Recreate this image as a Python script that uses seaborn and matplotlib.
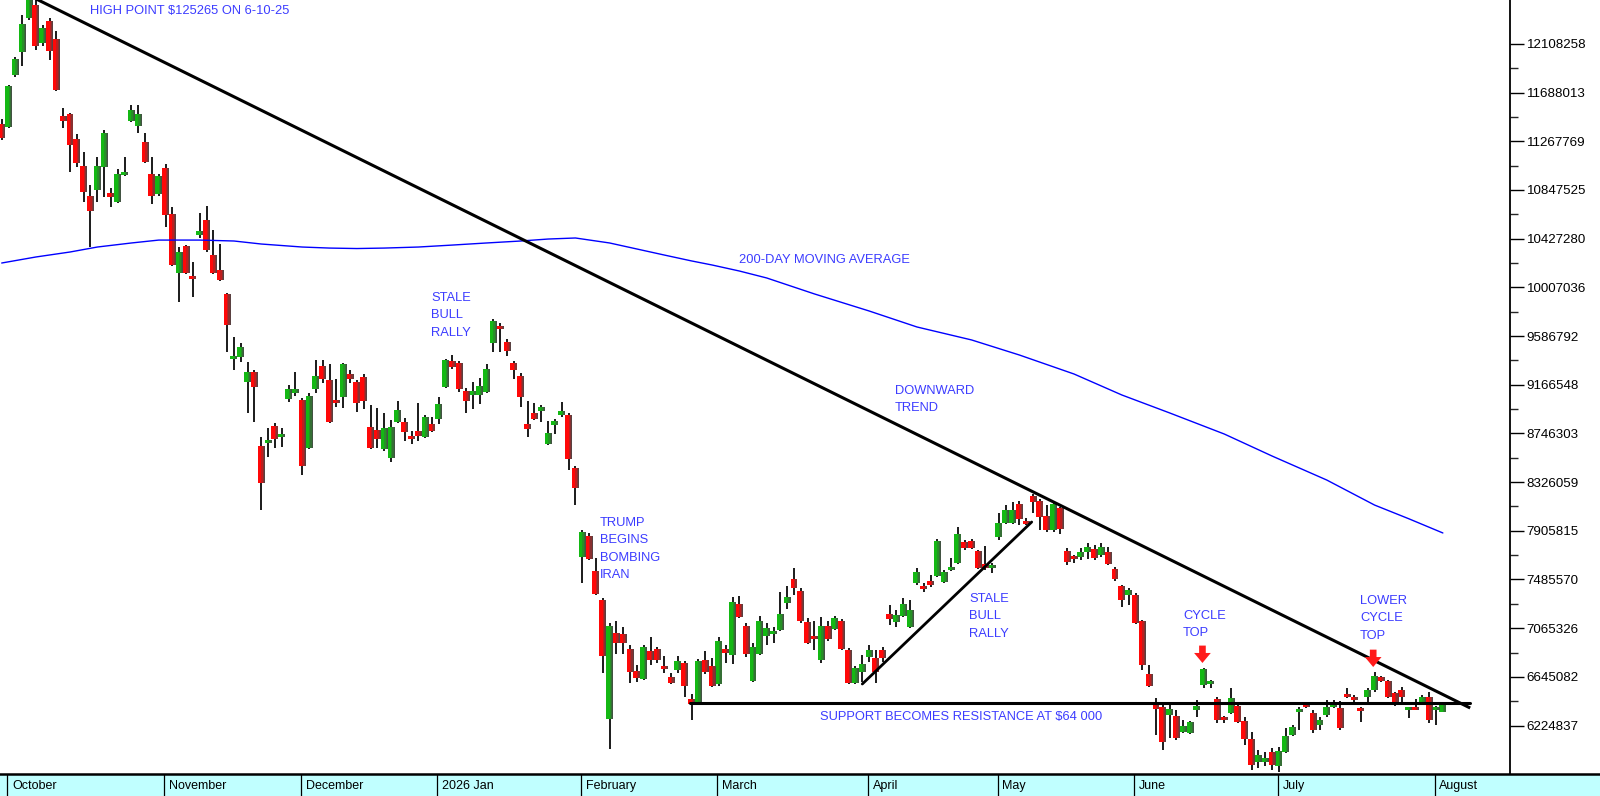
import matplotlib
matplotlib.use("Agg")
import matplotlib.pyplot as plt
import matplotlib.colors as mcolors
import numpy as np
import pandas as pd
import seaborn as sns

# JSE trading days, 30 Sep 2025 -> 4 Aug 2026
holidays = ["2025-12-16", "2025-12-25", "2025-12-26", "2026-01-01", "2026-04-03",
            "2026-04-06", "2026-04-27", "2026-05-01", "2026-06-16"]
days = pd.bdate_range("2025-09-30", "2026-08-04")
days = days[~days.isin(pd.to_datetime(holidays))]

# daily prices in dollars
opens = [114170, 113910, 118400, 120380, 123320, 124440, 121160, 123060, 121510, 114860,
         115030, 112870, 110540, 107950, 108470, 110460, 108210, 107440, 109770, 114430,
         114000, 112620, 109850, 108110, 110370, 106400, 101310, 103640, 101050, 104590,
         105880, 102860, 101570, 99500, 93890, 94060, 91900, 92760, 86380, 86640,
         88100, 87150, 90430, 90950, 90350, 86200, 91300, 93280, 92070, 90260,
         90610, 92590, 91900, 92330, 88020, 87760, 86120, 85340, 88450, 88450,
         87240, 87670, 87150, 88280, 88710, 91470, 93710, 93540, 91120, 90780,
         90780, 91040, 95270, 96730, 95350, 93540, 92420, 88280, 89230, 89400,
         86550, 88190, 89050, 89050, 84480, 76800, 78610, 75590, 73090, 62810,
         70240, 70150, 68860, 66960, 66270, 68680, 68860, 67390, 66440, 67040,
         67650, 64540, 64280, 67910, 67390, 65840, 68860, 68340, 72740, 70840,
         66090, 68420, 69980, 70150, 70500, 72830, 74900, 73860, 71190, 69890,
         67910, 70840, 70580, 71270, 68770, 65920, 66870, 68170, 68080, 68770,
         71880, 71190, 71700, 70760, 74550, 74210, 74730, 75160, 74640, 75670,
         76280, 78090, 78180, 77310, 76190, 75850, 78520, 79730, 79730, 81370,
         79900, 82060, 81630, 80330, 79130, 81030, 77310, 76880, 76800, 77230,
         77490, 76970, 77230, 75760, 74290, 73520, 73520, 71270, 66700, 64110,
         63850, 63160, 63070, 61690, 61610, 63590, 65750, 65840, 64540, 62900,
         63330, 63940, 62640, 61090, 59100, 59100, 59970, 58760, 59970, 61430,
         63420, 63940, 63330, 62300, 63160, 63850, 63760, 64890, 64710, 63760,
         64710, 65320, 66440, 66090, 65060, 65320, 63590, 63850, 64280, 64710,
         63590, 63420]
highs = [114600, 117540, 119950, 123580, 125265, 125130, 122710, 123320, 122200, 115550,
         115120, 113310, 111750, 108900, 111320, 113650, 108650, 110290, 111320, 115810,
         115810, 113390, 111320, 109850, 110720, 107000, 103550, 103730, 102260, 106490,
         107090, 105020, 103810, 99580, 95790, 95270, 93630, 92940, 87150, 87930,
         88360, 87930, 91640, 92760, 90520, 90950, 93800, 93800, 93450, 92160,
         93540, 92940, 92070, 92590, 89920, 89660, 89230, 88620, 90260, 88790,
         87670, 90090, 89050, 88880, 90610, 93890, 94230, 93710, 91380, 91900,
         92250, 93450, 97340, 96990, 95610, 93710, 92680, 90260, 90090, 89920,
         88530, 88710, 90170, 89230, 84650, 79130, 78870, 76710, 73260, 71100,
         71270, 70760, 69200, 67470, 69200, 69890, 69030, 68250, 66780, 68250,
         67820, 64970, 67990, 68680, 68080, 69890, 69200, 73340, 73430, 71100,
         69370, 71700, 71100, 70760, 73780, 74290, 75850, 74120, 71530, 71270,
         71620, 71270, 71700, 71440, 68940, 67390, 68340, 69200, 68770, 69030,
         72650, 72220, 73260, 73090, 75850, 74550, 75240, 78350, 75670, 76710,
         79390, 78260, 78350, 77400, 77750, 76280, 80590, 81280, 81540, 81630,
         80160, 82230, 81800, 81280, 81540, 81110, 77570, 76970, 77570, 78010,
         77830, 78010, 77660, 75930, 74380, 74120, 73690, 71360, 67470, 64630,
         64200, 64020, 63590, 62730, 62640, 64450, 67220, 66180, 64710, 63070,
         65490, 64110, 62990, 61690, 60140, 59970, 60310, 60400, 62040, 62300,
         63850, 64020, 63590, 62990, 64450, 64450, 64370, 65490, 64890, 63850,
         65490, 66870, 66530, 66180, 65140, 65580, 63850, 64540, 64890, 65140,
         63940, 64200]
lows = [112790, 113820, 118230, 119180, 123150, 120560, 120900, 119690, 117050, 113820,
        110030, 110460, 107440, 103550, 107440, 107870, 107000, 107350, 109700, 114340,
        113390, 110800, 107260, 107950, 105280, 101950, 98810, 101220, 99240, 104330,
        103120, 101220, 100620, 94490, 92940, 93630, 89230, 88450, 80850, 85430,
        86200, 86290, 90170, 90690, 83870, 86120, 90950, 91810, 88360, 89740,
        89660, 91810, 89310, 89570, 86120, 86200, 85950, 85000, 88360, 86810,
        86550, 86810, 87070, 87590, 88280, 91380, 93020, 91040, 89230, 89570,
        90000, 90950, 94490, 94490, 94140, 92160, 89740, 87150, 88620, 88450,
        86460, 87410, 88880, 84310, 81280, 74550, 76540, 73520, 66780, 60230,
        68420, 68420, 65920, 66010, 66180, 67470, 67650, 66780, 65840, 66780,
        64710, 62730, 64200, 66700, 65580, 65660, 67650, 67560, 71530, 68170,
        66010, 68340, 69200, 69370, 70410, 72310, 73520, 71100, 69290, 68770,
        67650, 69550, 70500, 68770, 65840, 65840, 66010, 67730, 65920, 67730,
        70930, 70760, 71620, 70670, 74380, 73780, 74210, 75070, 74550, 75590,
        76200, 77400, 77490, 75760, 75670, 75420, 78260, 79640, 79640, 79560,
        79560, 80590, 79130, 78950, 78950, 78780, 76110, 76280, 76540, 76620,
        76540, 76800, 76110, 74730, 72480, 72650, 71010, 67040, 65580, 61430,
        60140, 61170, 61000, 61610, 61520, 62990, 65490, 65490, 62470, 62470,
        63250, 62470, 60570, 58410, 58590, 58760, 58410, 58240, 59880, 61350,
        61870, 63760, 61610, 61870, 62990, 63760, 61870, 64630, 64200, 62560,
        64200, 65140, 66010, 64630, 63940, 64280, 62900, 63590, 64280, 62470,
        62300, 63420]
closes = [112960, 117450, 119780, 122800, 124960, 120900, 122450, 120470, 117100, 114430,
          112360, 110800, 108300, 106660, 110540, 113390, 107870, 109850, 110030, 115380,
          115030, 110890, 107950, 109680, 106310, 102000, 103120, 101310, 100790, 104930,
          103290, 101310, 100700, 96820, 94060, 94920, 92760, 91470, 83180, 86900,
          86980, 87410, 91300, 91300, 84650, 90690, 92420, 92160, 88450, 90090,
          93450, 92160, 90090, 90260, 86200, 86980, 87930, 88020, 89480, 87590,
          86980, 87240, 88880, 87670, 90000, 93800, 93190, 91300, 90260, 91120,
          91560, 93020, 97170, 96480, 94580, 92940, 90610, 87840, 88710, 89740,
          87500, 88530, 89400, 85260, 82750, 78950, 76620, 73600, 68250, 70840,
          69370, 69370, 66870, 66350, 69030, 67910, 67910, 67130, 65920, 67820,
          65660, 64110, 67820, 66870, 65660, 69550, 68510, 72910, 71620, 68420,
          69030, 71270, 70670, 70320, 71880, 73340, 74120, 71270, 69370, 69720,
          70840, 69720, 71530, 68860, 65920, 67220, 67560, 68770, 66870, 68080,
          71440, 71790, 72740, 72220, 75500, 74030, 74380, 78180, 75500, 75850,
          78780, 77570, 77570, 75850, 75850, 76110, 79730, 80850, 80850, 80080,
          79640, 81540, 80250, 79130, 81370, 79210, 76370, 76620, 77230, 77660,
          76710, 77660, 76190, 74900, 73090, 73950, 71100, 67470, 65660, 63680,
          60830, 63680, 61170, 62210, 62560, 63940, 67130, 66010, 62730, 62730,
          64630, 62560, 61090, 58840, 59710, 59450, 58840, 60050, 61350, 62120,
          63680, 63850, 61870, 62730, 63850, 64020, 62040, 64710, 64450, 63500,
          65320, 66530, 66090, 64710, 64020, 64710, 63850, 63590, 64710, 62730,
          63850, 64020]

# 200-day moving average, read at a set of trading-day positions
ma_pos = [0, 5, 10, 14, 19, 23, 29, 34, 38, 44, 48, 52, 56, 61, 66, 71, 76, 80, 84, 89,
          93, 97, 101, 104, 108, 112, 119, 127, 134, 142, 149, 157, 164, 171, 179, 186,
          194, 201, 206, 211]
ma_val = [102170, 102690, 103120, 103550, 103900, 104150, 104150, 104070, 103810, 103550,
          103460, 103420, 103460, 103550, 103720, 103900, 104070, 104240, 104330, 103900,
          103380, 102860, 102350, 102000, 101480, 100880, 99500, 98030, 96650, 95530,
          94230, 92590, 90780, 89230, 87410, 85510, 83440, 81280, 80100, 78870]

# hand-drawn lines (trading-day position, price)
trend_pos, trend_val = [4, 215], [125265, 63764]
rally_pos, rally_val = [126.0, 150.8], [65835, 79817]
support_pos, support_val = [100.8, 215], 64220
arrow_pos = [175.8, 200.8]
arrow_tip = [67650, 67300]

# right axis labels (chart units = cents)
tick_labels = [6224837, 6645082, 7065326, 7485570, 7905815, 8326059, 8746303, 9166548,
               9586792, 10007036, 10427280, 10847525, 11267769, 11688013, 12108258]
month_names = ["October", "November", "December", "2026 Jan", "February", "March",
               "April", "May", "June", "July", "August"]

sns.set_style("white")
plt.rcParams["font.family"] = ["Liberation Sans", "DejaVu Sans"]

W, H = 1600, 796
plot_w, plot_h, bar_h = 1510, 774, 22
fig = plt.figure(figsize=(W / 100, H / 100), dpi=100, facecolor="white")
ax = fig.add_axes([0, 1 - plot_h / H, plot_w / W, plot_h / H])

o, hi, lo, c = (np.array(v, dtype=float) for v in (opens, highs, lows, closes))
pos = np.arange(len(o))
up = c >= o
bottom = np.minimum(o, c)
height = np.maximum(np.abs(c - o), 280)

# wicks
ax.vlines(pos, lo, hi, color="#1a1a1a", lw=1.4, zorder=2)

# bodies: bright fill, darker right-hand shading laid over it
w = 1.02
def shade(base, t):
    b = np.array(mcolors.to_rgb(base))
    return tuple(b * (1 - t) + np.array([0.28, 0.28, 0.28]) * t)
layers = [(1.0, 0.0), (0.5, 0.35), (0.3, 0.65), (0.12, 0.9)]
for mask, base in ((up, "#14b814"), (~up, "#ff0808")):
    for frac, t in layers:
        bw = w * frac
        ax.bar(pos[mask] + w / 2 - bw / 2, height[mask], width=bw, bottom=bottom[mask],
               color=shade(base, t), lw=0, zorder=3)

# moving average
sns.lineplot(x=ma_pos, y=ma_val, ax=ax, color="#0000ff", lw=1.0, zorder=4)

# trend / support / rally lines
ax.plot(trend_pos, trend_val, color="black", lw=2.2, zorder=5, solid_capstyle="butt")
ax.plot(support_pos, [support_val, support_val], color="black", lw=2.2, zorder=5)
ax.plot(rally_pos, rally_val, color="black", lw=2.0, zorder=5)

for p, tip in zip(arrow_pos, arrow_tip):
    ax.annotate("", xy=(p, tip), xytext=(p, tip + 1500),
                arrowprops=dict(arrowstyle="simple,head_width=1.0,head_length=0.6,tail_width=0.4",
                                color="#ff1a1a", lw=0, mutation_scale=12,
                                shrinkA=0, shrinkB=0), zorder=6)

ax.set_xlim(-0.249, 220.83)
ax.set_ylim(58067, 124871)

# right axis
ax.yaxis.tick_right()
ax.set_yticks([t / 100 for t in tick_labels])
ax.set_yticklabels([str(t) for t in tick_labels], fontsize=9.6)
minor = [(a + b) / 200 for a, b in zip(tick_labels[:-1], tick_labels[1:])]
ax.set_yticks(minor, minor=True)
ax.tick_params(axis="y", which="major", length=10, width=1, direction="out", pad=2, colors="black")
ax.tick_params(axis="y", which="minor", length=6, width=1, direction="out", right=True)
ax.set_xticks([])
for s in ("left", "top", "bottom"):
    ax.spines[s].set_visible(False)
ax.spines["right"].set_color("black")
ax.spines["right"].set_linewidth(1.3)
ax.set_xlabel("")
ax.set_ylabel("")

# annotations
blue_txt = "#3c3cff"
def note(px, py, lines):
    for k, line in enumerate(lines):
        ax.text(px / plot_w, 1 - (py + k * 17.4) / plot_h, line, transform=ax.transAxes,
                color=blue_txt, fontsize=9.3, va="center", ha="left", zorder=7)

note(90, 11, ["HIGH POINT $125265 ON 6-10-25"])
note(739, 260, ["200-DAY MOVING AVERAGE"])
note(431, 298, ["STALE", "BULL", "RALLY"])
note(895, 391, ["DOWNWARD", "TREND"])
note(600, 523, ["TRUMP", "BEGINS", "BOMBING", "IRAN"])
note(969, 599, ["STALE", "BULL", "RALLY"])
note(1183, 616, ["CYCLE", "TOP"])
note(1360, 601, ["LOWER", "CYCLE", "TOP"])
note(820, 717, ["SUPPORT BECOMES RESISTANCE AT $64 000"])

# month strip at the bottom
bar = fig.add_axes([0, 0, 1, bar_h / H])
bar.set_facecolor("#c0ffff")
x0, x1 = ax.get_xlim()
bar.set_xlim(x0, x0 + (x1 - x0) * W / plot_w)
bar.set_ylim(0, 1)
per = days.to_period("M")
first_idx = [i for i in range(1, len(days)) if per[i] != per[i - 1]]
for i, name in zip(first_idx, month_names):
    bar.axvline(i - 0.2, color="black", lw=0.9)
    bar.text(i - 0.2 + 0.7, 0.45, name, va="center", ha="left", fontsize=9, color="black")
bar.set_xticks([])
bar.set_yticks([])
for s in ("left", "right", "bottom"):
    bar.spines[s].set_visible(False)
bar.spines["top"].set_color("black")
bar.spines["top"].set_linewidth(1.8)

fig.savefig("out.png", dpi=100, facecolor="white")
